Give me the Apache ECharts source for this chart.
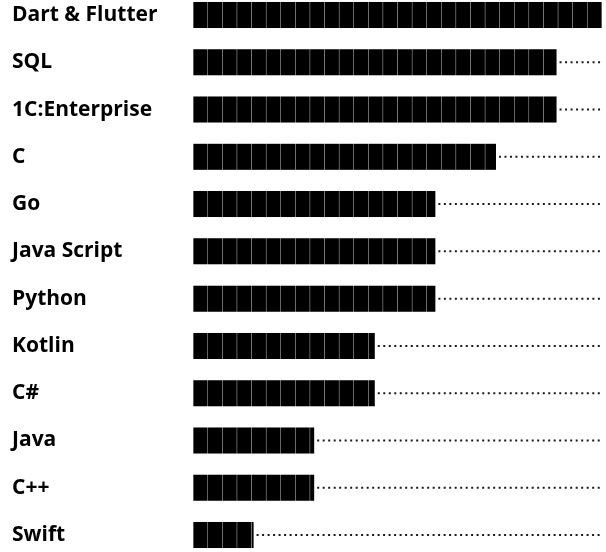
<!DOCTYPE html>
<html>
<head>
<meta charset="utf-8">
<script src="https://cdn.jsdelivr.net/npm/echarts@6/dist/echarts.min.js"></script>
<style>
  html, body { margin: 0; padding: 0; background: #fff; }
  #chart { width: 606px; height: 552px; }
</style>
</head>
<body>
<div id="chart"></div>
<script>
const categories = ['Dart & Flutter', 'SQL', '1C:Enterprise', 'C', 'Go', 'Java Script', 'Python', 'Kotlin', 'C#', 'Java', 'C++', 'Swift'];
const values = [27, 24, 24, 20, 16, 16, 16, 12, 12, 8, 8, 4];
const axisMax = 27;

const chart = echarts.init(document.getElementById('chart'), null, { renderer: 'canvas' });
chart.setOption({
  animation: false,
  backgroundColor: '#ffffff',
  grid: { left: 193, right: 4, top: 15, bottom: 17, containLabel: false },
  xAxis: {
    type: 'value', min: 0, max: axisMax, show: false
  },
  yAxis: {
    type: 'category',
    data: categories,
    inverse: true,
    boundaryGap: false,
    axisLine: { show: false },
    axisTick: { show: false },
    splitLine: { show: false },
    axisLabel: {
      align: 'left',
      margin: 181,
      color: '#000',
      fontFamily: 'Open Sans',
      fontWeight: 'bold',
      fontSize: 21
    }
  },
  series: [
    {
      type: 'custom',
      z: 1,
      data: values.map((v, i) => [v, i]),
      encode: { x: 0, y: 1 },
      renderItem: function (params, api) {
        const start = api.coord([api.value(0), api.value(1)]);
        const end = api.coord([axisMax, api.value(1)]);
        if (start[0] + 4 >= end[0]) { return null; }
        return {
          type: 'line',
          shape: { x1: start[0] + 3, y1: start[1], x2: end[0], y2: end[1] },
          style: { stroke: '#1a1a1a', lineWidth: 2, lineDash: [2, 3.5] }
        };
      }
    },
    {
      type: 'pictorialBar',
      z: 3,
      data: values,
      symbol: 'rect',
      symbolRepeat: true,
      symbolSize: [14.2, 26],
      symbolMargin: 0,
      symbolClip: true,
      symbolBoundingData: axisMax,
      itemStyle: { color: '#000', borderColor: '#222222', borderWidth: 1 }
    }
  ]
});
</script>
</body>
</html>
